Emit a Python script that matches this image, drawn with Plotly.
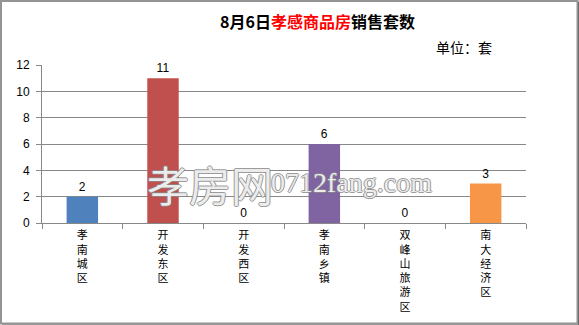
import plotly.graph_objects as go

# ---- data ----
categories = ["孝南城区", "开发东区", "开发西区", "孝南乡镇", "双峰山旅游区", "南大经济区"]
values = [2, 11, 0, 6, 0, 3]
bar_colors = ["#4F81BD", "#C0504D", "#9BBB59", "#8064A2", "#4BACC6", "#F79646"]
y_ticks = [0, 2, 4, 6, 8, 10, 12]
title_parts = ["8月6日", "孝感商品房", "销售套数"]
unit_text = "单位：套"
watermark_cn = "孝房网"
watermark_en = "0712fang.com"

W, H = 579, 325
L, R, T, B = 42, 526, 65, 222.7  # plot area in pixels

def px2x(px):
    return (px - L) / (R - L)

def px2y(py):
    return (B - py) / (B - T)

CJK = "Noto Sans CJK SC"

fig = go.Figure()
fig.add_trace(go.Bar(
    x=categories, y=values,
    marker=dict(color=bar_colors, line=dict(width=0)),
    text=[str(v) for v in values], textposition="outside",
    textfont=dict(family="Liberation Sans", size=12, color="#000000"),
    cliponaxis=False, width=0.39,
))

annotations = []
# title
annotations.append(dict(
    x=px2x(317), y=px2y(21), xref="paper", yref="paper",
    xanchor="center", yanchor="middle", showarrow=False,
    text="<b>%s<span style='color:#FF0000'>%s</span>%s</b>" % tuple(title_parts),
    font=dict(family=CJK, size=16, color="#000000"),
))
# unit
annotations.append(dict(
    x=px2x(464), y=px2y(47), xref="paper", yref="paper",
    xanchor="center", yanchor="middle", showarrow=False,
    text=unit_text, font=dict(family=CJK, size=14, color="#000000"),
))
# watermark
outline = "1px 0 0 #8a8a8a, -1px 0 0 #8a8a8a, 0 1px 0 #8a8a8a, 0 -1px 0 #8a8a8a"
annotations.append(dict(
    x=px2x(210), y=px2y(183), xref="paper", yref="paper",
    xanchor="center", yanchor="middle", showarrow=False,
    text=watermark_cn,
    font=dict(family=CJK, size=42, color="rgba(255,255,255,0.85)", shadow=outline),
))
annotations.append(dict(
    x=px2x(351), y=px2y(182), xref="paper", yref="paper",
    xanchor="center", yanchor="middle", showarrow=False,
    text=watermark_en,
    font=dict(family="Liberation Serif", size=28, color="rgba(255,255,255,0.85)", shadow=outline),
))

shapes = [
    dict(type="rect", xref="paper", yref="paper",
         x0=px2x(1), x1=px2x(577.5), y0=px2y(1), y1=px2y(323),
         line=dict(color="#949494", width=2)),
    dict(type="line", xref="paper", yref="paper",
         x0=px2x(578.5), x1=px2x(578.5), y0=px2y(2), y1=px2y(325),
         line=dict(color="#6e6e6e", width=1)),
    dict(type="line", xref="paper", yref="paper",
         x0=px2x(2), x1=px2x(579), y0=px2y(324.5), y1=px2y(324.5),
         line=dict(color="#6e6e6e", width=1)),
]

fig.update_layout(
    width=W, height=H,
    margin=dict(l=L, r=W - R, t=T, b=H - B),
    paper_bgcolor="#FFFFFF", plot_bgcolor="#FFFFFF",
    showlegend=False,
    annotations=annotations, shapes=shapes,
    bargap=0.61,
)
fig.update_xaxes(
    tickmode="array", tickvals=categories,
    ticktext=["<br>".join(list(c)) for c in categories],
    tickfont=dict(family=CJK, size=11, color="#000000"),
    tickangle=0, ticklabelstandoff=2,
    showline=True, linecolor="#888888", linewidth=1,
    ticks="outside", tickson="boundaries", ticklen=5, tickcolor="#888888",
    showgrid=False, zeroline=False, fixedrange=True, automargin=False,
)
fig.update_yaxes(
    range=[0, 12], tickvals=y_ticks, showline=True, linecolor="#888888", linewidth=1,
    ticks="outside", ticklen=5, tickcolor="#888888",
    showgrid=True, gridcolor="#888888", gridwidth=1, zeroline=False,
    tickfont=dict(family="Liberation Sans", size=12, color="#000000"),
    ticklabelstandoff=4, fixedrange=True, automargin=False,
)

fig.write_html("out.html", config={"displayModeBar": False})
